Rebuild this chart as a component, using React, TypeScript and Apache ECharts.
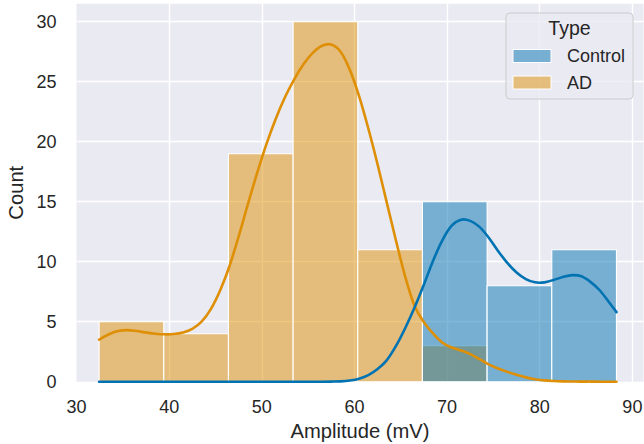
import React, { useEffect, useRef } from "react";
import * as echarts from "echarts";

// ---- data ----
const hueOrder = ["Control", "AD"];
const legendTitle = "Type";
const xLabel = "Amplitude (mV)";
const yLabel = "Count";

const binEdges = [32.44, 39.42, 46.4, 53.38, 60.36, 67.34, 74.32, 81.3, 88.28];
const adCounts = [5, 4, 19, 30, 11, 3, 0, 0];
const controlCounts = [0, 0, 0, 0, 0, 15, 8, 11];

const kdeX = [
  32.44, 33.5, 34.5, 35.5, 36.5, 37.5, 38.5, 39.5, 40.5, 41.5, 42.5, 43.5, 44.5, 45.5,
  46.5, 47.5, 48.5, 49.5, 50.5, 51.5, 52.5, 53.5, 54.5, 55.5, 56.5, 57.5, 58.5, 59.5,
  60.5, 61.5, 62.5, 63.5, 64.5, 65.5, 66.5, 67.5, 68.5, 69.5, 70.5, 71.5, 72.5, 73.5,
  74.5, 75.5, 76.5, 77.5, 78.5, 79.5, 80.5, 81.5, 82.5, 83.5, 84.5, 85.5, 86.5, 87.5, 88.28,
];
const adKde = [
  3.5, 3.95, 4.22, 4.3, 4.22, 4.1, 4.0, 3.95, 3.97, 4.1, 4.4, 5.0, 6.05, 7.6,
  9.6, 12.1, 14.8, 17.4, 19.8, 21.9, 23.7, 25.2, 26.45, 27.4, 28.0, 28.1, 27.5, 26.0,
  23.8, 21.1, 18.1, 14.9, 11.7, 8.7, 6.3, 4.95, 4.0, 3.25, 2.85, 2.6, 2.3, 1.88,
  1.45, 1.1, 0.82, 0.58, 0.36, 0.21, 0.11, 0.06, 0.03, 0.02, 0.01, 0.01, 0, 0, 0,
];
const controlKde = [
  0, 0, 0, 0, 0, 0, 0, 0, 0, 0, 0, 0, 0, 0,
  0, 0, 0, 0, 0, 0, 0, 0, 0, 0, 0, 0.01, 0.03, 0.1,
  0.25, 0.55, 1.05, 1.8, 3.0, 4.5, 6.2, 8.1, 10.1, 11.8, 13.0, 13.5, 13.4, 12.9,
  12.0, 10.9, 9.9, 9.1, 8.55, 8.28, 8.28, 8.48, 8.72, 8.88, 8.78, 8.3, 7.6, 6.6, 5.8,
];

const xTicks = { min: 30, max: 91.2, step: 10 };
const yTicks = { min: 0, max: 31.5, step: 5 };

// ---- style ----
const FONT = "'Liberation Sans', Arial, sans-serif";
const TEXT = "#262626";
const BLUE = "#0173B2";
const ORANGE = "#DE8F05";
const BLUE_FILL = "rgba(1,115,178,0.5)";
const ORANGE_FILL = "rgba(222,143,5,0.5)";

function histData(counts: number[]) {
  return counts
    .map((c, i) => [binEdges[i], binEdges[i + 1], c])
    .filter((d) => d[2] > 0);
}

function histSeries(name: string, counts: number[], fill: string, z: number) {
  return {
    type: "custom",
    name,
    z,
    data: histData(counts),
    encode: { x: [0, 1], y: 2 },
    renderItem: (params: any, api: any) => {
      const p0 = api.coord([api.value(0), api.value(2)]);
      const p1 = api.coord([api.value(1), 0]);
      return {
        type: "rect",
        shape: { x: p0[0], y: p0[1], width: p1[0] - p0[0], height: p1[1] - p0[1] },
        style: { fill, stroke: "#ffffff", lineWidth: 1.1 },
      };
    },
  };
}

// smooth curve through the data points (Catmull-Rom rendered as cubic Béziers)
function curvePath(pts: number[][]) {
  let d = `M${pts[0][0]},${pts[0][1]}`;
  for (let i = 0; i < pts.length - 1; i++) {
    const p0 = pts[Math.max(0, i - 1)];
    const p1 = pts[i];
    const p2 = pts[i + 1];
    const p3 = pts[Math.min(pts.length - 1, i + 2)];
    const c1x = p1[0] + (p2[0] - p0[0]) / 6;
    const c1y = p1[1] + (p2[1] - p0[1]) / 6;
    const c2x = p2[0] - (p3[0] - p1[0]) / 6;
    const c2y = p2[1] - (p3[1] - p1[1]) / 6;
    d += ` C${c1x},${c1y} ${c2x},${c2y} ${p2[0]},${p2[1]}`;
  }
  return d;
}

function kdeSeries(name: string, values: number[], color: string, z: number) {
  return {
    type: "custom",
    name,
    z,
    data: kdeX.map((x, i) => [x, values[i]]),
    encode: { x: 0, y: 1 },
    renderItem: (params: any, api: any) => {
      if (params.dataIndex !== 0) return null;
      const pts = kdeX.map((x, i) => api.coord([x, values[i]]));
      return {
        type: "path",
        shape: { pathData: curvePath(pts) },
        style: { fill: "none", stroke: color, lineWidth: 2.6, lineJoin: "round", lineCap: "round" },
      };
    },
  };
}

export default function App() {
  const ref = useRef<HTMLDivElement>(null);
  useEffect(() => {
    if (!ref.current) return;
    const chart = echarts.init(ref.current, undefined, { renderer: "svg" });
    const legendX = 506;
    const legendY = 13;
    const itemColors = [BLUE_FILL, ORANGE_FILL];
    const legendGraphics: any[] = [
      {
        type: "rect",
        z: 100,
        shape: { x: legendX, y: legendY, width: 127, height: 86, r: 4 },
        style: { fill: "rgba(234,234,242,0.8)", stroke: "#cccccc", lineWidth: 1 },
      },
      {
        type: "text",
        z: 101,
        x: legendX + 63.5,
        y: legendY + 15,
        style: {
          text: legendTitle,
          fontSize: 19.5,
          fontFamily: FONT,
          fill: TEXT,
          align: "center",
          verticalAlign: "middle",
        },
      },
    ];
    hueOrder.forEach((label, i) => {
      const cy = legendY + 43 + i * 26.5;
      legendGraphics.push({
        type: "rect",
        z: 101,
        shape: { x: legendX + 7, y: cy - 6.5, width: 38, height: 13 },
        style: { fill: itemColors[i], stroke: "#ffffff", lineWidth: 1 },
      });
      legendGraphics.push({
        type: "text",
        z: 101,
        x: legendX + 61,
        y: cy,
        style: {
          text: label,
          fontSize: 18,
          fontFamily: FONT,
          fill: TEXT,
          align: "left",
          verticalAlign: "middle",
        },
      });
    });

    chart.setOption({
      animation: false,
      textStyle: { fontFamily: FONT },
      grid: {
        left: 76.5,
        right: 0.5,
        top: 3.7,
        bottom: 62.3,
        outerBoundsMode: "none",
        containLabel: false,
        show: true,
        backgroundColor: "#EAEAF2",
        borderWidth: 0,
      },
      xAxis: {
        type: "value",
        min: xTicks.min,
        max: xTicks.max,
        interval: xTicks.step,
        name: xLabel,
        nameLocation: "middle",
        nameGap: 35,
        nameTextStyle: { fontSize: 20.2, color: TEXT, fontFamily: FONT },
        axisLine: { show: false },
        axisTick: { show: false },
        axisLabel: {
          color: TEXT,
          fontSize: 18,
          fontFamily: FONT,
          margin: 16,
          formatter: (v: number) => (Math.abs(v % xTicks.step) < 1e-6 ? String(v) : ""),
        },
        splitLine: {
          show: true,
          showMinLine: false,
          showMaxLine: false,
          lineStyle: { color: "#ffffff", width: 1.4 },
        },
      },
      yAxis: {
        type: "value",
        min: yTicks.min,
        max: yTicks.max,
        interval: yTicks.step,
        name: yLabel,
        nameLocation: "middle",
        nameGap: 47,
        nameTextStyle: { fontSize: 20.2, color: TEXT, fontFamily: FONT },
        axisLine: { show: false },
        axisTick: { show: false },
        axisLabel: {
          color: TEXT,
          fontSize: 18,
          fontFamily: FONT,
          margin: 20,
          formatter: (v: number) => (Math.abs(v % yTicks.step) < 1e-6 ? String(v) : ""),
        },
        splitLine: {
          show: true,
          showMinLine: false,
          showMaxLine: false,
          lineStyle: { color: "#ffffff", width: 1.4 },
        },
      },
      series: [
        histSeries("AD", adCounts, ORANGE_FILL, 2),
        histSeries("Control", controlCounts, BLUE_FILL, 3),
        kdeSeries("AD KDE", adKde, ORANGE, 4),
        kdeSeries("Control KDE", controlKde, BLUE, 5),
      ],
      graphic: legendGraphics,
    });
    return () => chart.dispose();
  }, []);
  return (
    <div
      ref={ref}
      style={{ position: "absolute", left: 0, top: 0, width: 644, height: 444 }}
    />
  );
}
